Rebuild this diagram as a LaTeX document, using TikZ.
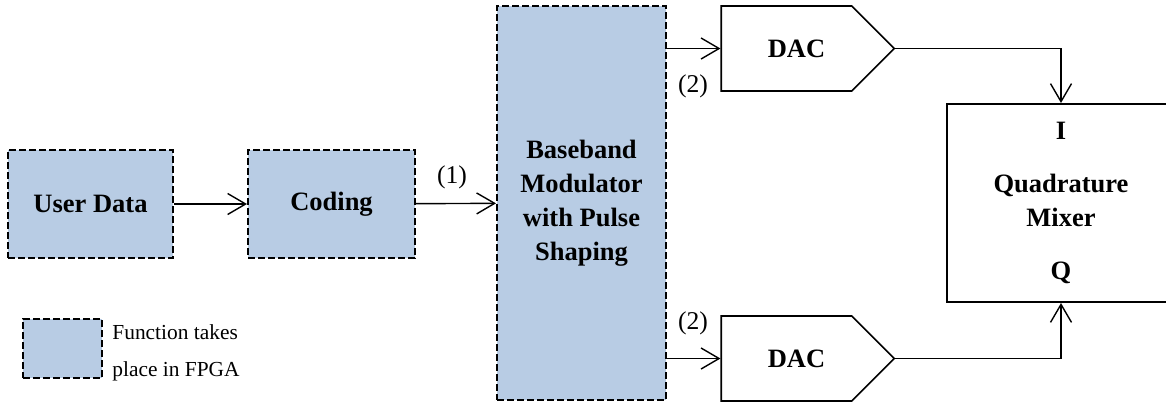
\documentclass[tikz,border=0pt]{standalone}
\usepackage{fontspec}
\setmainfont{Liberation Serif}
\usetikzlibrary{arrows.meta,shapes.symbols}
\definecolor{fpgablue}{RGB}{184,204,228}
\begin{document}
\begin{tikzpicture}[x=0.5pt,y=-0.5pt,
fpga/.style={draw,fill=fpgablue,line width=1pt,dash pattern=on 3.5pt off 1.5pt,inner sep=0pt,align=center,font=\fontsize{13.25}{17}\selectfont\bfseries},
dacbox/.style={draw,signal,signal to=east,signal pointer angle=90,line width=0.8pt,minimum width=86.5pt,minimum height=42.5pt,inner sep=0pt,font=\fontsize{13.25}{17}\selectfont\bfseries},
sig/.style={-{Straight Barb[length=9pt,width=10.5pt]},line width=0.7pt},
lbl/.style={inner sep=0pt,font=\fontsize{12.8}{15}\selectfont}]
\useasboundingbox(0,0)rectangle(1166,402);
\node[fpga,minimum width=82.5pt,minimum height=54pt](user)at(90.5,204){User Data};
\node[fpga,minimum width=83.5pt,minimum height=54pt](coding)at(331.5,204){Coding};
\node[fpga,minimum width=84.5pt,minimum height=197pt](bb)at(581.5,203){Baseband\\Modulator\\with Pulse\\Shaping};
\node[dacbox](dacI)at(786.5,48.5){\hspace*{10pt}DAC};
\node[dacbox](dacQ)at(786.5,358.5){\hspace*{10pt}DAC};
\node[draw,line width=1pt,minimum width=114pt,minimum height=99pt,inner sep=0pt,align=center,font=\fontsize{13.25}{17}\selectfont\bfseries](mixer)at(1061,203){I\\[9.5pt]Quadrature\\Mixer\\[9.5pt]Q};
\draw[sig](user)--(coding);
\draw[sig](coding)--(bb);
\node[lbl](l1)at(452,177){(1)};
\draw[sig](bb.east|-dacI.west)--(dacI.west);
\draw[sig](bb.east|-dacQ.west)--(dacQ.west);
\node[lbl](l2i)at(693,86){(2)};
\node[lbl](l2q)at(693,323){(2)};
\draw[sig](dacI.east)-|(mixer.north);
\draw[sig](dacQ.east)-|(mixer.south);
% legend
\node[fpga,minimum width=39.5pt,minimum height=29.5pt](key)at(62.5,348.5){};
\node[anchor=west,align=left,inner sep=0pt,font=\fontsize{10.7}{18.5}\selectfont](keytext)at(112,352.5){Function takes\\place in FPGA};
\end{tikzpicture}
\end{document}
